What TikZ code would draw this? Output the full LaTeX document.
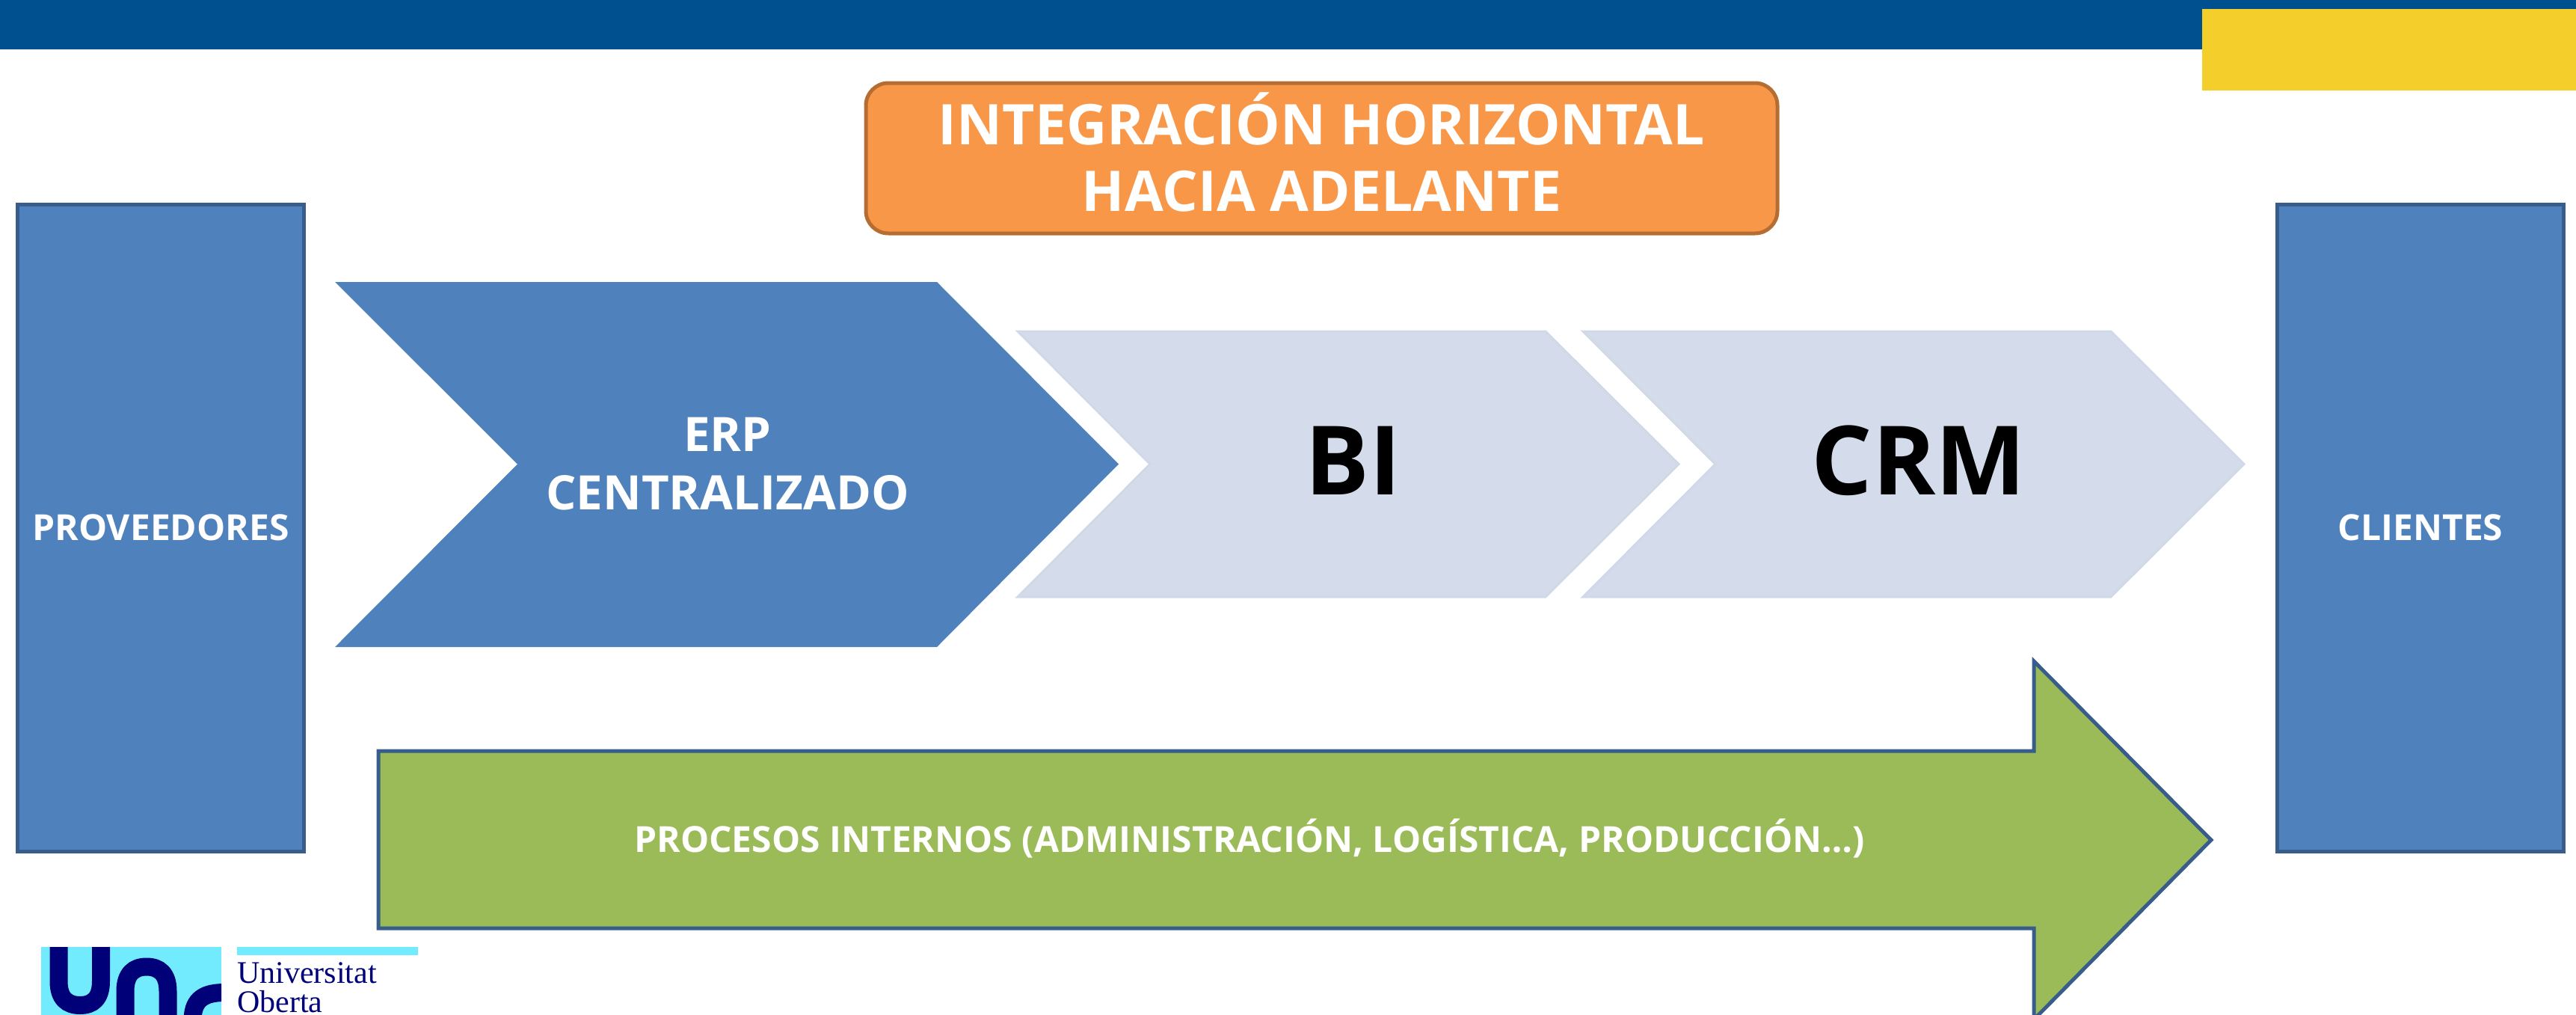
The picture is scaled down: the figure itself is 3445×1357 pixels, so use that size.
\documentclass[tikz,border=0pt]{standalone}
\usepackage{fontspec}
\setmainfont{Open Sans}
\newfontfamily\logofont{Liberation Serif}
\definecolor{boxblue}{HTML}{4F81BD}
\definecolor{boxline}{HTML}{385D8A}
\definecolor{barblue}{HTML}{004F8F}
\definecolor{baryellow}{HTML}{F4CF2B}
\definecolor{titlefill}{HTML}{F99749}
\definecolor{titleline}{HTML}{B66D31}
\definecolor{palefill}{HTML}{D4DCEB}
\definecolor{paleline}{HTML}{D1D9E9}
\definecolor{arrowgreen}{HTML}{9BBB59}
\definecolor{logocyan}{HTML}{72EBFF}
\definecolor{logonavy}{HTML}{000078}

\begin{document}
\begin{tikzpicture}[x=1pt,y=-1pt]
        \tikzstyle{side box}=[fill=boxblue,draw=boxline,line width=5pt]
        \tikzstyle{pale chevron}=[fill=palefill,draw=paleline,line width=3pt]
        \tikzstyle{white text}=[text=white,font=\bfseries\fontsize{48}{60}\selectfont,align=center]
        \tikzstyle{big text}=[text=black,font=\bfseries\fontsize{128}{150}\selectfont]
        \tikzstyle{logo stroke}=[draw=logonavy,line width=24pt]
        \tikzstyle{logo text}=[text=logonavy,font=\logofont\fontsize{42}{42}\selectfont,anchor=base west,inner sep=0pt]

        \useasboundingbox (0,0) rectangle (3445,1357);

        % Draw the top band
        \fill[barblue] (0,0) rectangle (3445,66);
        \fill[baryellow] (2945,12) rectangle (3445,121);

        % Draw the title
        \node[rounded corners=30pt,fill=titlefill,draw=titleline,line width=5pt,
            minimum width=1219pt,minimum height=201pt,inner sep=0pt] (title) at (1767.5,211.5) {};
        \node[text=white,font=\bfseries\fontsize{75}{89}\selectfont,align=center] (titletext) at (1767.5,203) {INTEGRACIÓN HORIZONTAL\\HACIA ADELANTE};

        % Draw the side boxes
        \node[side box,minimum width=383pt,minimum height=865pt,inner sep=0pt,white text] (prov) at (215,705.5) {PROVEEDORES};
        \node[side box,minimum width=383pt,minimum height=865pt,inner sep=0pt,white text] (cli) at (3237,705.5) {CLIENTES};

        % Draw the chevrons
        \fill[boxblue] (448,377) -- (1253,377) -- (1496,620.5) -- (1253,865) -- (448,865) -- (692,620.5) -- cycle;
        \node[white text,font=\bfseries\fontsize{63.5}{78}\selectfont] (erp) at (973,620) {ERP\\CENTRALIZADO};

        \foreach \id/\x/\lab in {bi/1359/BI,crm/2115/CRM}
        {
            \draw[pale chevron,shift={(\x pt,0)}] (2,443) -- (708,443) -- (886,620.5) -- (708,798) -- (2,798) -- (179,620.5) -- cycle;
            \node[big text] (\id) at ([shift={(451pt,0)}]\x pt,616) {\lab};
        }

        % Draw the process arrow
        \draw[fill=arrowgreen,draw=boxline,line width=5pt] (506,1004) -- (2720,1004) -- (2720,884) -- (2957,1123) -- (2720,1363) -- (2720,1241) -- (506,1241) -- cycle;
        \node[white text] (proc) at (1671,1121) {PROCESOS INTERNOS (ADMINISTRACIÓN, LOGÍSTICA, PRODUCCIÓN…)};

        % Draw the logo
        \begin{scope}
            \clip (55,1266) rectangle (296,1357);
            \fill[logocyan] (55,1266) rectangle (296,1357);
            \draw[logo stroke] (78.5,1260) -- (78.5,1312) .. controls (78.5,1335) and (90,1344) .. (107,1344) .. controls (124,1344) and (135,1335) .. (135,1312) -- (135,1260);
            \draw[logo stroke] (167.5,1365) -- (167.5,1325) .. controls (167.5,1302) and (179,1292.5) .. (196,1292.5) .. controls (213,1292.5) and (224.5,1302) .. (224.5,1325) -- (224.5,1365);
            \draw[logo stroke] (257.5,1365) .. controls (257.5,1340) and (268,1327) .. (300,1327);
        \end{scope}
        \fill[logocyan] (317,1266) rectangle (559,1277);
        \node[logo text] (uni) at (317,1314) {Universitat};
        \node[logo text] (obe) at (317,1353) {Oberta};
\end{tikzpicture}
\end{document}
